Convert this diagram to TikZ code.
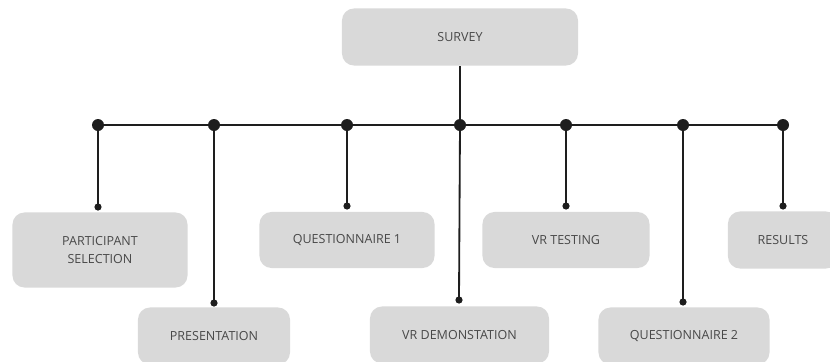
\documentclass[tikz,border=0pt]{standalone}
\usepackage{fontspec}
\setmainfont{Open Sans}
\usepackage{xcolor}
\usepackage{tikz}
\definecolor{boxgray}{HTML}{D9D9D9}
\definecolor{textgray}{HTML}{484848}
\definecolor{linegray}{HTML}{1E1E1E}

\begin{document}
\begin{tikzpicture}[
    x=0.025cm, y=-0.025cm,
    box/.style={rectangle, rounded corners=0.3cm, fill=boxgray, text=textgray, align=center, font=\fontsize{8.9}{12.5}\selectfont, minimum height=1.425cm},
    bigdot/.style={circle, fill=linegray, inner sep=0pt, minimum size=0.3cm},
    smalldot/.style={circle, fill=linegray, inner sep=0pt, minimum size=0.18cm},
    link/.style={draw=linegray, line width=1.3pt}
]
\clip (0,0) rectangle (830,362);

% Boxes
\node[box, minimum width=5.9cm] (survey) at (460,37) {SURVEY};
\node[box, minimum width=4.375cm, minimum height=1.875cm] (partsel) at (100,250) {PARTICIPANT\\SELECTION};
\node[box, minimum width=3.8cm] (pres) at (214,336) {PRESENTATION};
\node[box, minimum width=4.375cm, minimum height=1.4cm] (quest1) at (347,240) {QUESTIONNAIRE 1};
\node[box, minimum width=4.475cm] (vrdemo) at (459.5,335) {VR DEMONSTATION};
\node[box, minimum width=4.175cm, minimum height=1.4cm] (vrtest) at (566,240) {VR TESTING};
\node[box, minimum width=4.275cm] (quest2) at (684,336) {QUESTIONNAIRE 2};
\node[box, minimum width=2.75cm] (results) at (783,240) {RESULTS};

% Dots on the main line
\node[bigdot] (bPS) at (98,125) {};
\node[bigdot] (bPR) at (214,125) {};
\node[bigdot] (bQ1) at (347,125) {};
\node[bigdot] (bSV) at (460,125) {};
\node[bigdot] (bVT) at (566,125) {};
\node[bigdot] (bQ2) at (683,125) {};
\node[bigdot] (bRS) at (783,125) {};

% Dots above the boxes
\node[smalldot] (tPS) at (98,207) {};
\node[smalldot] (tPR) at (214,303) {};
\node[smalldot] (tQ1) at (347,206) {};
\node[smalldot] (tVD) at (459,300) {};
\node[smalldot] (tVT) at (566,206) {};
\node[smalldot] (tQ2) at (683,302) {};
\node[smalldot] (tRS) at (783,206) {};

% Lines
\draw[link] (bPS.center) -- (bRS.center);
\draw[link] (survey.south) -- (bSV.center);
\draw[link] (bPS.center) -- (tPS.center);
\draw[link] (bPR.center) -- (tPR.center);
\draw[link] (bQ1.center) -- (tQ1.center);
\draw[link] (bSV.center) -- (tVD.center);
\draw[link] (bVT.center) -- (tVT.center);
\draw[link] (bQ2.center) -- (tQ2.center);
\draw[link] (bRS.center) -- (tRS.center);
\end{tikzpicture}
\end{document}
